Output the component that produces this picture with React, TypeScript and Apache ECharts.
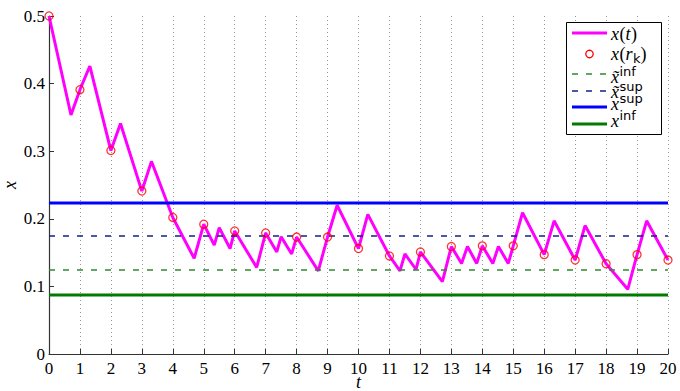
import React, { useEffect, useRef } from "react";
import * as echarts from "echarts";

const tVals = [0, 0.71, 1, 1.32, 2, 2.31, 3, 3.31, 4, 4.69, 5, 5.34, 5.5, 5.85, 6, 6.71, 7, 7.36, 7.5, 7.84, 8, 8.7, 9, 9.31, 10, 10.3, 11, 11.34, 11.5, 11.86, 12, 12.71, 13, 13.33, 13.52, 13.82, 14, 14.34, 14.52, 14.84, 15, 15.3, 16, 16.32, 17, 17.32, 18, 18.7, 19, 19.31, 20];
const xVals = [0.5, 0.3535, 0.391, 0.426, 0.301, 0.341, 0.241, 0.285, 0.202, 0.1415, 0.192, 0.161, 0.187, 0.156, 0.182, 0.128, 0.179, 0.151, 0.1735, 0.148, 0.173, 0.123, 0.173, 0.22, 0.156, 0.2066, 0.145, 0.123, 0.148, 0.125, 0.151, 0.107, 0.159, 0.134, 0.159, 0.134, 0.16, 0.134, 0.159, 0.134, 0.16, 0.209, 0.147, 0.197, 0.139, 0.19, 0.1335, 0.0957, 0.147, 0.197, 0.139];

const rkTimes = [0, 1, 2, 3, 4, 5, 6, 7, 8, 9, 10, 11, 12, 13, 14, 15, 16, 17, 18, 19, 20];
const rkVals = [0.5, 0.391, 0.301, 0.241, 0.202, 0.192, 0.182, 0.179, 0.173, 0.173, 0.156, 0.145, 0.151, 0.159, 0.16, 0.16, 0.147, 0.139, 0.1335, 0.147, 0.139];

const xTildeInf = 0.1243;
const xTildeSup = 0.1746;
const xSup = 0.2234;
const xInf = 0.0873;

const tRange = [0, 20];

const SERIF = "Liberation Serif";
const SANS = "DejaVu Sans";

const MAGENTA = "#ff00ff";
const RED = "#ff0000";
const GREEN_DASH = "#2e8b2e";
const NAVY_DASH = "#10208a";
const BLUE = "#0000ff";
const GREEN = "#007a00";

type Piece = [string, "i" | "n" | "sub" | "sup"];
const legendLabels: Piece[][] = [
  [["x", "i"], ["(", "n"], ["t", "i"], [")", "n"]],
  [["x", "i"], ["(", "n"], ["r", "i"], ["k", "sub"], [")", "n"]],
  [["x̃", "i"], ["inf", "sup"]],
  [["x̃", "i"], ["sup", "sup"]],
  [["x", "i"], ["sup", "sup"]],
  [["x", "i"], ["inf", "sup"]],
];

export default function App() {
  const ref = useRef<HTMLDivElement>(null);
  useEffect(() => {
    if (!ref.current) return;
    const chart = echarts.init(ref.current, undefined, { renderer: "svg" });
    const hline = (v: number) => tRange.map((t) => [t, v]);

    // ---- hand-built legend box (matches the MATLAB-style legend) ----
    const fontOf: Record<string, { family: string; size: number; style: string; dy: number }> = {
      i: { family: SERIF, size: 18, style: "italic", dy: 0 },
      n: { family: SERIF, size: 18, style: "normal", dy: 0 },
      sub: { family: SANS, size: 13, style: "normal", dy: 4 },
      sup: { family: SANS, size: 13, style: "normal", dy: -6 },
    };
    const ctx = document.createElement("canvas").getContext("2d")!;
    const measure = (s: string, k: string) => {
      const f = fontOf[k];
      ctx.font = `${f.style} ${f.size}px "${f.family}"`;
      return ctx.measureText(s).width;
    };
    const rowLineY = [33, 54, 74, 91, 107, 124];
    const rowTextY = [34, 54, 77, 92, 104, 121];
    const rowKinds = ["solid", "circle", "dash", "dash", "solid", "solid"];
    const rowColors = [MAGENTA, RED, GREEN_DASH, NAVY_DASH, BLUE, GREEN];
    const rowWidths = [3, 1.3, 1.5, 1.5, 3, 3];
    const lx0 = 572;
    const lx1 = 607;
    const tx0 = 611;
    const legendEls: any[] = [
      {
        type: "rect",
        shape: { x: 566.5, y: 22.5, width: 95, height: 112 },
        style: { fill: "#fff", stroke: "#000", lineWidth: 1 },
        z: 100,
      },
    ];
    legendLabels.forEach((pieces, r) => {
      const y = rowLineY[r];
      if (rowKinds[r] === "circle") {
        legendEls.push({
          type: "circle",
          shape: { cx: (lx0 + lx1) / 2, cy: y, r: 3.7 },
          style: { fill: "none", stroke: rowColors[r], lineWidth: rowWidths[r] },
          z: 101,
        });
      } else {
        legendEls.push({
          type: "line",
          shape: { x1: lx0, y1: y, x2: lx1, y2: y },
          style: {
            stroke: rowColors[r],
            lineWidth: rowWidths[r],
            lineDash: rowKinds[r] === "dash" ? [6, 8] : null,
          },
          z: 101,
        });
      }
      let x = tx0;
      pieces.forEach(([s, k]) => {
        const f = fontOf[k];
        legendEls.push({
          type: "text",
          x,
          y: rowTextY[r] + f.dy,
          style: {
            text: s,
            fontFamily: f.family,
            fontSize: f.size,
            fontStyle: f.style,
            fill: "#000",
            align: "left",
            verticalAlign: "middle",
          },
          z: 102,
        });
        x += measure(s, k) + (k === "i" ? 0.5 : 0);
      });
    });

    chart.setOption({
      animation: false,
      backgroundColor: "#fff",
      textStyle: { fontFamily: SERIF },
      grid: { left: 49, right: 12, top: 16, bottom: 37, containLabel: false, outerBoundsMode: "none" },
      xAxis: {
        type: "value",
        min: 0,
        max: 20,
        interval: 1,
        name: "t",
        nameLocation: "middle",
        nameGap: 21,
        nameMoveOverlap: false,
        nameTextStyle: { fontFamily: SERIF, fontStyle: "italic", fontSize: 18, lineHeight: 14, color: "#000" },
        axisLine: { show: true, lineStyle: { color: "#333", width: 1.2 } },
        axisTick: { show: true, inside: true, length: 5, lineStyle: { color: "#333" } },
        axisLabel: { fontFamily: SERIF, fontSize: 17, lineHeight: 14, color: "#000", margin: 7 },
        splitLine: { show: true, lineStyle: { color: "#999", type: [1, 3], width: 1 } },
      },
      yAxis: {
        type: "value",
        min: 0,
        max: 0.5,
        interval: 0.1,
        name: "x",
        nameLocation: "middle",
        nameGap: 30,
        nameMoveOverlap: false,
        nameRotate: 90,
        nameTextStyle: { fontFamily: SERIF, fontStyle: "italic", fontSize: 18, color: "#000" },
        axisLine: { show: true, lineStyle: { color: "#333", width: 1.2 } },
        axisTick: { show: true, inside: true, length: 5, lineStyle: { color: "#333" } },
        axisLabel: { fontFamily: SERIF, fontSize: 17, color: "#000", margin: 4 },
        splitLine: { show: false },
      },
      legend: { show: false },
      graphic: legendEls,
      series: [
        {
          name: "x(t)",
          type: "line",
          data: tVals.map((t, i) => [t, xVals[i]]),
          showSymbol: false,
          symbol: "none",
          lineStyle: { color: MAGENTA, width: 3 },
          itemStyle: { color: MAGENTA },
          z: 2,
        },
        {
          name: "x(r_k)",
          type: "scatter",
          data: rkTimes.map((t, i) => [t, rkVals[i]]),
          symbol: "circle",
          symbolSize: 8,
          itemStyle: { color: "rgba(0,0,0,0)", borderColor: RED, borderWidth: 1.3 },
          z: 5,
        },
        {
          name: "x̃inf",
          type: "line",
          data: hline(xTildeInf),
          symbol: "none",
          lineStyle: { color: GREEN_DASH, width: 1.5, type: [6, 8] },
          z: 3,
        },
        {
          name: "x̃sup",
          type: "line",
          data: hline(xTildeSup),
          symbol: "none",
          lineStyle: { color: NAVY_DASH, width: 1.5, type: [6, 8] },
          z: 3,
        },
        {
          name: "xsup",
          type: "line",
          data: hline(xSup),
          symbol: "none",
          lineStyle: { color: BLUE, width: 3 },
          z: 3,
        },
        {
          name: "xinf",
          type: "line",
          data: hline(xInf),
          symbol: "none",
          lineStyle: { color: GREEN, width: 3 },
          z: 3,
        },
      ],
    });
    return () => chart.dispose();
  }, []);
  return (
    <div
      ref={ref}
      style={{ position: "fixed", left: 0, top: 0, width: 680, height: 391 }}
    />
  );
}
